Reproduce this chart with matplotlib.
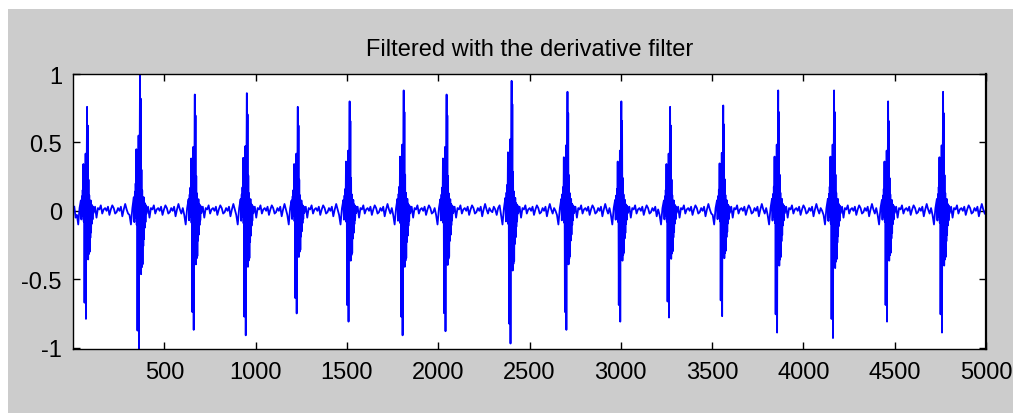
#!/usr/bin/env python3
"""Plot the derivative-filtered ECG trace (MATLAB-style figure)."""
import numpy as np
import matplotlib

matplotlib.use("Agg")
import matplotlib.pyplot as plt  # noqa: E402
from matplotlib.patches import Rectangle  # noqa: E402

N_SAMPLES = 5000

# R-peak sample index of each beat and the extreme values of its QRS burst
beat_idx = [77, 367, 667, 952, 1231, 1515, 1811, 2046, 2402,
            2708, 3003, 3270, 3561, 3862, 4168, 4464, 4765]
beat_max = [0.76, 1.00, 0.85, 0.86, 0.76, 0.80, 0.88, 0.85, 0.95,
            0.87, 0.80, 0.76, 0.77, 0.88, 0.88, 0.80, 0.87]
beat_min = [-0.79, -1.03, -0.87, -0.91, -0.75, -0.81, -0.91, -0.88, -0.97,
            -0.87, -0.81, -0.78, -0.77, -0.89, -0.93, -0.81, -0.89]

# QRS burst: sample offsets and shape (positive part scaled by beat_max,
# negative part by |beat_min|)
qrs_offset = [-34, -31, -28, -26, -24, -22, -20, -18, -16, -14, -12, -10,
              -8, -6, -4, -2, 0, 2, 4, 6, 8, 10, 12, 14, 16, 18, 20, 22,
              24, 26, 28, 30, 33, 36]
qrs_shape = [0.10, -0.08, 0.14, -0.05, 0.20, 0.05, 0.45, -0.10, 0.30, -0.85,
             0.10, -0.30, 0.55, -1.00, 0.25, 0.40, 1.00, -0.20, 0.82, -0.45,
             0.30, -0.40, 0.15, -0.38, 0.05, -0.25, 0.10, -0.20, 0.06, -0.12,
             0.05, -0.08, 0.04, -0.02]

# low-level ripple between beats, one value every RIPPLE_STEP samples
RIPPLE_STEP = 8
ripple = [0.03, -0.05, 0.02, 0.01, 0.04, -0.02, 0.01, 0.02, 0.00, 0.03,
          -0.03, 0.01, 0.04, 0.02, -0.02, -0.01, 0.02, 0.00, 0.03, -0.04,
          0.01, 0.05, 0.01, -0.02, 0.02, 0.00, -0.01, 0.03, 0.01, -0.03,
          0.02, 0.04, -0.01, 0.01, 0.03, -0.02, 0.00, 0.02]
pre_beat = [-0.03, -0.10, 0.02]

x_ticks = [500, 1000, 1500, 2000, 2500, 3000, 3500, 4000, 4500, 5000]
y_ticks = [-1, -0.5, 0, 0.5, 1]
y_labels = ["-1", "-0.5", "0", "0.5", "1"]


def build_trace():
    xs, ys = [], []
    prev_end = 0
    for b, hi, lo in zip(beat_idx, beat_max, beat_min):
        start = b + qrs_offset[0]
        n = max((start - prev_end) // RIPPLE_STEP, len(pre_beat) + 1)
        vals = ripple[: n - len(pre_beat)] + pre_beat
        gx = np.linspace(prev_end, start, len(vals) + 1, endpoint=False)[1:]
        xs.extend(gx)
        ys.extend(vals)
        for off, s in zip(qrs_offset, qrs_shape):
            xs.append(b + off)
            ys.append(s * hi if s > 0 else s * -lo)
        prev_end = b + qrs_offset[-1]
    n = (N_SAMPLES - prev_end) // RIPPLE_STEP
    tail = ripple[:n]
    xs.extend(prev_end + RIPPLE_STEP * (np.arange(len(tail)) + 1))
    ys.extend(tail)
    return np.array(xs), np.array(ys)


plt.rcParams["font.family"] = ["Liberation Sans", "DejaVu Sans"]

fig = plt.figure(figsize=(10.13, 4.14), dpi=100, facecolor="white")
fig.patches.append(Rectangle((8 / 1013, 0), 1, 404 / 414, transform=fig.transFigure,
                             facecolor="#cccccc", edgecolor="none", zorder=-10))

ax = fig.add_axes([73 / 1013, 64 / 414, 913 / 1013, 275 / 414])
x, y = build_trace()
ax.plot(x, y, color="#0000ff", lw=1.3)

ax.set_xlim(0, N_SAMPLES)
ax.set_ylim(-1.01, 1.0)
ax.set_xticks(x_ticks)
ax.set_xticklabels([str(t) for t in x_ticks])
ax.set_yticks(y_ticks)
ax.set_yticklabels(y_labels)
ax.tick_params(direction="in", length=5, width=1, top=True, right=True,
               labelsize=17, colors="black")
ax.tick_params(axis="x", pad=9)
ax.tick_params(axis="y", pad=8)
for sp in ax.spines.values():
    sp.set_linewidth(1.0)
ax.spines["right"].set_linewidth(1.6)
ax.set_title("Filtered with the derivative filter", fontsize=17, pad=14)

fig.savefig("out.png", dpi=100, facecolor=fig.get_facecolor())
